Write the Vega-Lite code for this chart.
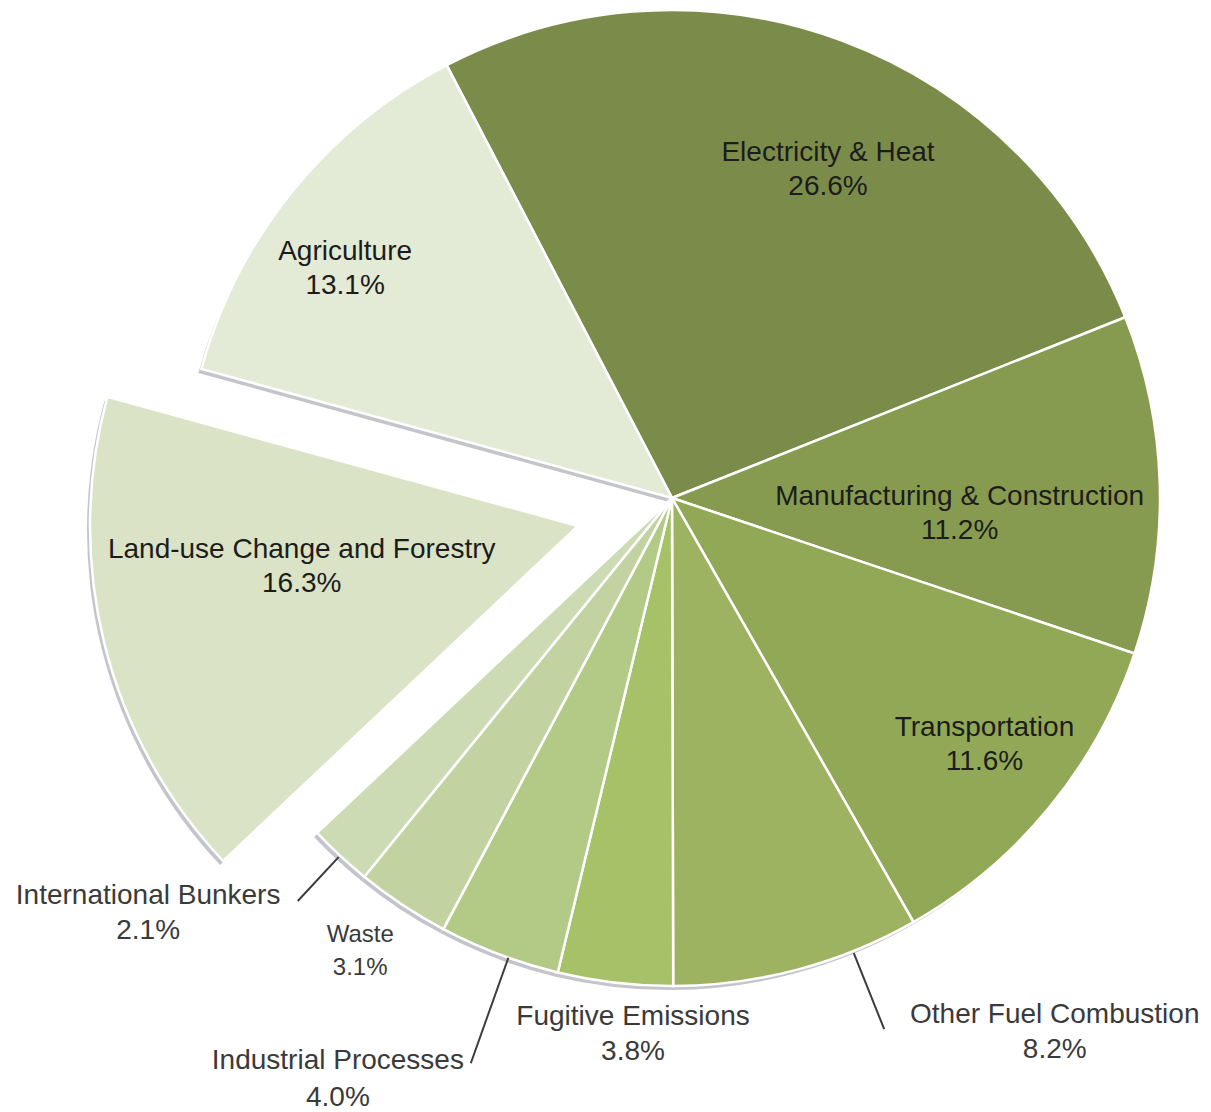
{
  "$schema": "https://vega.github.io/schema/vega-lite/v6.json",
  "width": 1078,
  "height": 996,
  "autosize": {"type": "none"},
  "padding": {"left": 133, "top": 0, "right": 0, "bottom": 116},
  "background": "white",
  "config": {"view": {"stroke": null}, "text": {"font": "Liberation Sans"}},
  "data": {
    "values": [
      {"order": 1, "sector": "Electricity & Heat", "share": 26.6},
      {"order": 2, "sector": "Manufacturing & Construction", "share": 11.2},
      {"order": 3, "sector": "Transportation", "share": 11.6},
      {"order": 4, "sector": "Other Fuel Combustion", "share": 8.2},
      {"order": 5, "sector": "Fugitive Emissions", "share": 3.8},
      {"order": 6, "sector": "Industrial Processes", "share": 4.0},
      {"order": 7, "sector": "Waste", "share": 3.1},
      {"order": 8, "sector": "International Bunkers", "share": 2.1},
      {"order": 9, "sector": "Land-use Change and Forestry", "share": 16.3},
      {"order": 10, "sector": "Agriculture", "share": 13.1}
    ]
  },
  "transform": [
    {"window": [{"op": "sum", "field": "share", "as": "end"}], "sort": [{"field": "order"}], "frame": [null, 0]},
    {"calculate": "datum.end - datum.share", "as": "start"},
    {"calculate": "datum.end - datum.share / 2", "as": "mid"},
    {"calculate": "datum.sector + '\\n' + format(datum.share, '.1f') + '%'", "as": "label"}
  ],
  "layer": [
    {
      "transform": [{"filter": "datum.sector !== 'Land-use Change and Forestry'"}],
      "mark": {"type": "arc", "radius": 488, "fill": "#c4c4cb", "xOffset": -3, "yOffset": 4},
      "encoding": {
        "theta": {"field": "start", "type": "quantitative", "stack": null, "scale": {"type": "linear", "domain": [0, 100], "range": [-0.48, 5.8032], "nice": false, "zero": false}},
        "theta2": {"field": "end"}
      }
    },
    {
      "transform": [{"filter": "datum.sector === 'Land-use Change and Forestry'"}],
      "mark": {"type": "arc", "radius": 488, "fill": "#c4c4cb", "xOffset": -97, "yOffset": 32},
      "encoding": {
        "theta": {"field": "start", "type": "quantitative", "stack": null, "scale": {"type": "linear", "domain": [0, 100], "range": [-0.48, 5.8032], "nice": false, "zero": false}},
        "theta2": {"field": "end"}
      }
    },
    {
      "transform": [{"filter": "datum.sector !== 'Land-use Change and Forestry'"}],
      "mark": {"type": "arc", "radius": 488, "stroke": "white", "strokeWidth": 2.5},
      "encoding": {
        "theta": {"field": "start", "type": "quantitative", "stack": null, "scale": {"type": "linear", "domain": [0, 100], "range": [-0.48, 5.8032], "nice": false, "zero": false}},
        "theta2": {"field": "end"},
        "color": {
          "field": "sector", "type": "nominal", "legend": null,
          "scale": {
            "domain": ["Electricity & Heat", "Manufacturing & Construction", "Transportation", "Other Fuel Combustion", "Fugitive Emissions", "Industrial Processes", "Waste", "International Bunkers", "Land-use Change and Forestry", "Agriculture"],
            "range": ["#7b8c4a", "#869b4f", "#91a957", "#9db362", "#a7c168", "#b3ca86", "#c2d3a1", "#cddbb4", "#dae3c6", "#e3ead5"]
          }
        }
      }
    },
    {
      "transform": [{"filter": "datum.sector === 'Land-use Change and Forestry'"}],
      "mark": {"type": "arc", "radius": 488, "stroke": "white", "strokeWidth": 2.5, "xOffset": -94, "yOffset": 28},
      "encoding": {
        "theta": {"field": "start", "type": "quantitative", "stack": null, "scale": {"type": "linear", "domain": [0, 100], "range": [-0.48, 5.8032], "nice": false, "zero": false}},
        "theta2": {"field": "end"},
        "color": {
          "field": "sector", "type": "nominal", "legend": null,
          "scale": {
            "domain": ["Electricity & Heat", "Manufacturing & Construction", "Transportation", "Other Fuel Combustion", "Fugitive Emissions", "Industrial Processes", "Waste", "International Bunkers", "Land-use Change and Forestry", "Agriculture"],
            "range": ["#7b8c4a", "#869b4f", "#91a957", "#9db362", "#a7c168", "#b3ca86", "#c2d3a1", "#cddbb4", "#dae3c6", "#e3ead5"]
          }
        }
      }
    },
    {
      "transform": [{"filter": "datum.sector === 'International Bunkers'"}],
      "mark": {"type": "arc", "radius": 550, "radius2": 490, "stroke": "#3c3c3c", "strokeWidth": 2, "fill": "transparent"},
      "encoding": {
        "theta": {"field": "mid", "type": "quantitative", "stack": null, "scale": {"type": "linear", "domain": [0, 100], "range": [-0.48, 5.8032], "nice": false, "zero": false}},
        "theta2": {"field": "mid"}
      }
    },
    {
      "transform": [{"filter": "datum.sector === 'Industrial Processes'"}],
      "mark": {"type": "arc", "radius": 600, "radius2": 488, "thetaOffset": -0.02, "theta2Offset": -0.02, "stroke": "#3c3c3c", "strokeWidth": 2, "fill": "transparent"},
      "encoding": {
        "theta": {"field": "mid", "type": "quantitative", "stack": null, "scale": {"type": "linear", "domain": [0, 100], "range": [-0.48, 5.8032], "nice": false, "zero": false}},
        "theta2": {"field": "mid"}
      }
    },
    {
      "transform": [{"filter": "datum.sector === 'Other Fuel Combustion'"}],
      "mark": {"type": "arc", "radius": 572, "radius2": 490, "thetaOffset": -0.12, "theta2Offset": -0.12, "stroke": "#3c3c3c", "strokeWidth": 2, "fill": "transparent"},
      "encoding": {
        "theta": {"field": "mid", "type": "quantitative", "stack": null, "scale": {"type": "linear", "domain": [0, 100], "range": [-0.48, 5.8032], "nice": false, "zero": false}},
        "theta2": {"field": "mid"}
      }
    },
    {
      "transform": [{"filter": "datum.sector === 'Electricity & Heat'"}],
      "mark": {"type": "text", "radius": 365, "thetaOffset": 0.086, "dy": -15, "fontSize": 28, "lineBreak": "\n", "lineHeight": 34, "fill": "#1c1c1c", "align": "center", "baseline": "middle"},
      "encoding": {
        "theta": {"field": "mid", "type": "quantitative", "stack": null, "scale": {"type": "linear", "domain": [0, 100], "range": [-0.48, 5.8032], "nice": false, "zero": false}},
        "text": {"field": "label"}
      }
    },
    {
      "transform": [{"filter": "datum.sector === 'Manufacturing & Construction'"}],
      "mark": {"type": "text", "radius": 288, "thetaOffset": 0.077, "dy": -15, "fontSize": 28, "lineBreak": "\n", "lineHeight": 34, "fill": "#1c1c1c", "align": "center", "baseline": "middle"},
      "encoding": {
        "theta": {"field": "mid", "type": "quantitative", "stack": null, "scale": {"type": "linear", "domain": [0, 100], "range": [-0.48, 5.8032], "nice": false, "zero": false}},
        "text": {"field": "label"}
      }
    },
    {
      "transform": [{"filter": "datum.sector === 'Transportation'"}],
      "mark": {"type": "text", "radius": 397, "thetaOffset": -0.024, "dy": -15, "fontSize": 28, "lineBreak": "\n", "lineHeight": 34, "fill": "#1c1c1c", "align": "center", "baseline": "middle"},
      "encoding": {
        "theta": {"field": "mid", "type": "quantitative", "stack": null, "scale": {"type": "linear", "domain": [0, 100], "range": [-0.48, 5.8032], "nice": false, "zero": false}},
        "text": {"field": "label"}
      }
    },
    {
      "transform": [{"filter": "datum.sector === 'Agriculture'"}],
      "mark": {"type": "text", "radius": 400, "thetaOffset": -0.065, "dy": -15, "fontSize": 28, "lineBreak": "\n", "lineHeight": 34, "fill": "#1c1c1c", "align": "center", "baseline": "middle"},
      "encoding": {
        "theta": {"field": "mid", "type": "quantitative", "stack": null, "scale": {"type": "linear", "domain": [0, 100], "range": [-0.48, 5.8032], "nice": false, "zero": false}},
        "text": {"field": "label"}
      }
    },
    {
      "transform": [{"filter": "datum.sector === 'Land-use Change and Forestry'"}],
      "mark": {"type": "text", "radius": 279, "thetaOffset": 0.105, "xOffset": -94, "yOffset": 28, "dy": -15, "fontSize": 28, "lineBreak": "\n", "lineHeight": 34, "fill": "#1c1c1c", "align": "center", "baseline": "middle"},
      "encoding": {
        "theta": {"field": "mid", "type": "quantitative", "stack": null, "scale": {"type": "linear", "domain": [0, 100], "range": [-0.48, 5.8032], "nice": false, "zero": false}},
        "text": {"field": "label"}
      }
    },
    {
      "transform": [{"filter": "datum.sector === 'Other Fuel Combustion'"}],
      "mark": {"type": "text", "radius": 655, "thetaOffset": -0.364, "dy": -15, "fontSize": 28, "lineBreak": "\n", "lineHeight": 35, "fill": "#3a3a3a", "align": "center", "baseline": "middle"},
      "encoding": {
        "theta": {"field": "mid", "type": "quantitative", "stack": null, "scale": {"type": "linear", "domain": [0, 100], "range": [-0.48, 5.8032], "nice": false, "zero": false}},
        "text": {"field": "label"}
      }
    },
    {
      "transform": [{"filter": "datum.sector === 'Fugitive Emissions'"}],
      "mark": {"type": "text", "radius": 535, "thetaOffset": -0.044, "dy": -15, "fontSize": 28, "lineBreak": "\n", "lineHeight": 35, "fill": "#3a3a3a", "align": "center", "baseline": "middle"},
      "encoding": {
        "theta": {"field": "mid", "type": "quantitative", "stack": null, "scale": {"type": "linear", "domain": [0, 100], "range": [-0.48, 5.8032], "nice": false, "zero": false}},
        "text": {"field": "label"}
      }
    },
    {
      "transform": [{"filter": "datum.sector === 'Industrial Processes'"}],
      "mark": {"type": "text", "radius": 669, "thetaOffset": 0.161, "dy": -17, "fontSize": 28, "lineBreak": "\n", "lineHeight": 37, "fill": "#3a3a3a", "align": "center", "baseline": "middle"},
      "encoding": {
        "theta": {"field": "mid", "type": "quantitative", "stack": null, "scale": {"type": "linear", "domain": [0, 100], "range": [-0.48, 5.8032], "nice": false, "zero": false}},
        "text": {"field": "label"}
      }
    },
    {
      "transform": [{"filter": "datum.sector === 'Waste'"}],
      "mark": {"type": "text", "radius": 549, "thetaOffset": 0.019, "dy": -15, "fontSize": 24, "lineBreak": "\n", "lineHeight": 33, "fill": "#3a3a3a", "align": "center", "baseline": "middle"},
      "encoding": {
        "theta": {"field": "mid", "type": "quantitative", "stack": null, "scale": {"type": "linear", "domain": [0, 100], "range": [-0.48, 5.8032], "nice": false, "zero": false}},
        "text": {"field": "label"}
      }
    },
    {
      "transform": [{"filter": "datum.sector === 'International Bunkers'"}],
      "mark": {"type": "text", "radius": 667, "thetaOffset": 0.155, "dy": -15, "fontSize": 28, "lineBreak": "\n", "lineHeight": 35, "fill": "#3a3a3a", "align": "center", "baseline": "middle"},
      "encoding": {
        "theta": {"field": "mid", "type": "quantitative", "stack": null, "scale": {"type": "linear", "domain": [0, 100], "range": [-0.48, 5.8032], "nice": false, "zero": false}},
        "text": {"field": "label"}
      }
    }
  ]
}
